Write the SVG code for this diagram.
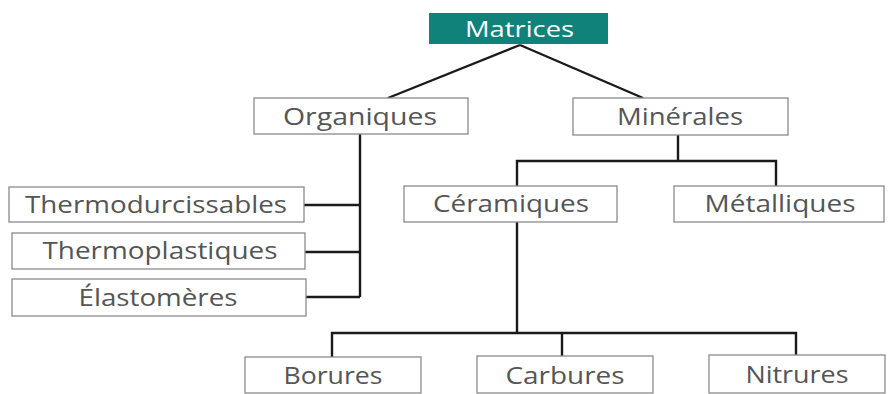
<svg xmlns="http://www.w3.org/2000/svg" width="888" height="394" viewBox="0 0 888 394">
<style>
.box{fill:#fff;stroke:#8a8a8a;stroke-width:1.3}
.lbl{font-family:"Open Sans","Liberation Sans",sans-serif;font-size:23px;fill:#555;text-anchor:middle}
.top{fill:#11827a;stroke:none}
.toplbl{font-family:"Open Sans","Liberation Sans",sans-serif;font-size:22px;fill:#fff;text-anchor:middle}
.conn{fill:none;stroke:#1a1a1a;stroke-width:2.4}
</style>
<rect width="888" height="394" fill="#fff"/>
<g id="connectors" class="conn">
<path d="M520 45 L388 98"/>
<path d="M520 45 L643 98"/>
<path d="M360 134 V297"/>
<path d="M304 205 H360"/>
<path d="M305 252 H360"/>
<path d="M306 297 H360"/>
<path d="M678 135 V161"/>
<path d="M517 186 V161 H776 V186"/>
<path d="M517 222 V333"/>
<path d="M332 357 V333 H796 V355"/>
<path d="M562 333 V356"/>
</g>
<g id="matrices"><rect class="top" x="429" y="13" width="179" height="31"/><text class="toplbl" x="519.5" y="37" textLength="109" lengthAdjust="spacingAndGlyphs">Matrices</text></g>
<g id="organiques"><rect class="box" x="254" y="98" width="214" height="36"/><text class="lbl" x="360" y="125" textLength="154" lengthAdjust="spacingAndGlyphs">Organiques</text></g>
<g id="minerales"><rect class="box" x="573" y="98" width="215" height="37"/><text class="lbl" x="680" y="125" textLength="126" lengthAdjust="spacingAndGlyphs">Minérales</text></g>
<g id="thermodurcissables"><rect class="box" x="9" y="187" width="295" height="35"/><text class="lbl" x="156" y="213" textLength="262" lengthAdjust="spacingAndGlyphs">Thermodurcissables</text></g>
<g id="thermoplastiques"><rect class="box" x="12" y="233" width="293" height="36"/><text class="lbl" x="160" y="259" textLength="235" lengthAdjust="spacingAndGlyphs">Thermoplastiques</text></g>
<g id="elastomeres"><rect class="box" x="12" y="279" width="294" height="37"/><text class="lbl" x="158" y="306" textLength="159" lengthAdjust="spacingAndGlyphs">Élastomères</text></g>
<g id="ceramiques"><rect class="box" x="404" y="186" width="213" height="36"/><text class="lbl" x="511" y="212" textLength="156" lengthAdjust="spacingAndGlyphs">Céramiques</text></g>
<g id="metalliques"><rect class="box" x="674" y="186" width="210" height="36"/><text class="lbl" x="780" y="212" textLength="151" lengthAdjust="spacingAndGlyphs">Métalliques</text></g>
<g id="borures"><rect class="box" x="245" y="357" width="176" height="36"/><text class="lbl" x="333" y="384" textLength="99" lengthAdjust="spacingAndGlyphs">Borures</text></g>
<g id="carbures"><rect class="box" x="477" y="356" width="176" height="37"/><text class="lbl" x="565" y="384" textLength="119" lengthAdjust="spacingAndGlyphs">Carbures</text></g>
<g id="nitrures"><rect class="box" x="709" y="355" width="176" height="38"/><text class="lbl" x="797" y="383" textLength="103" lengthAdjust="spacingAndGlyphs">Nitrures</text></g>
</svg>
